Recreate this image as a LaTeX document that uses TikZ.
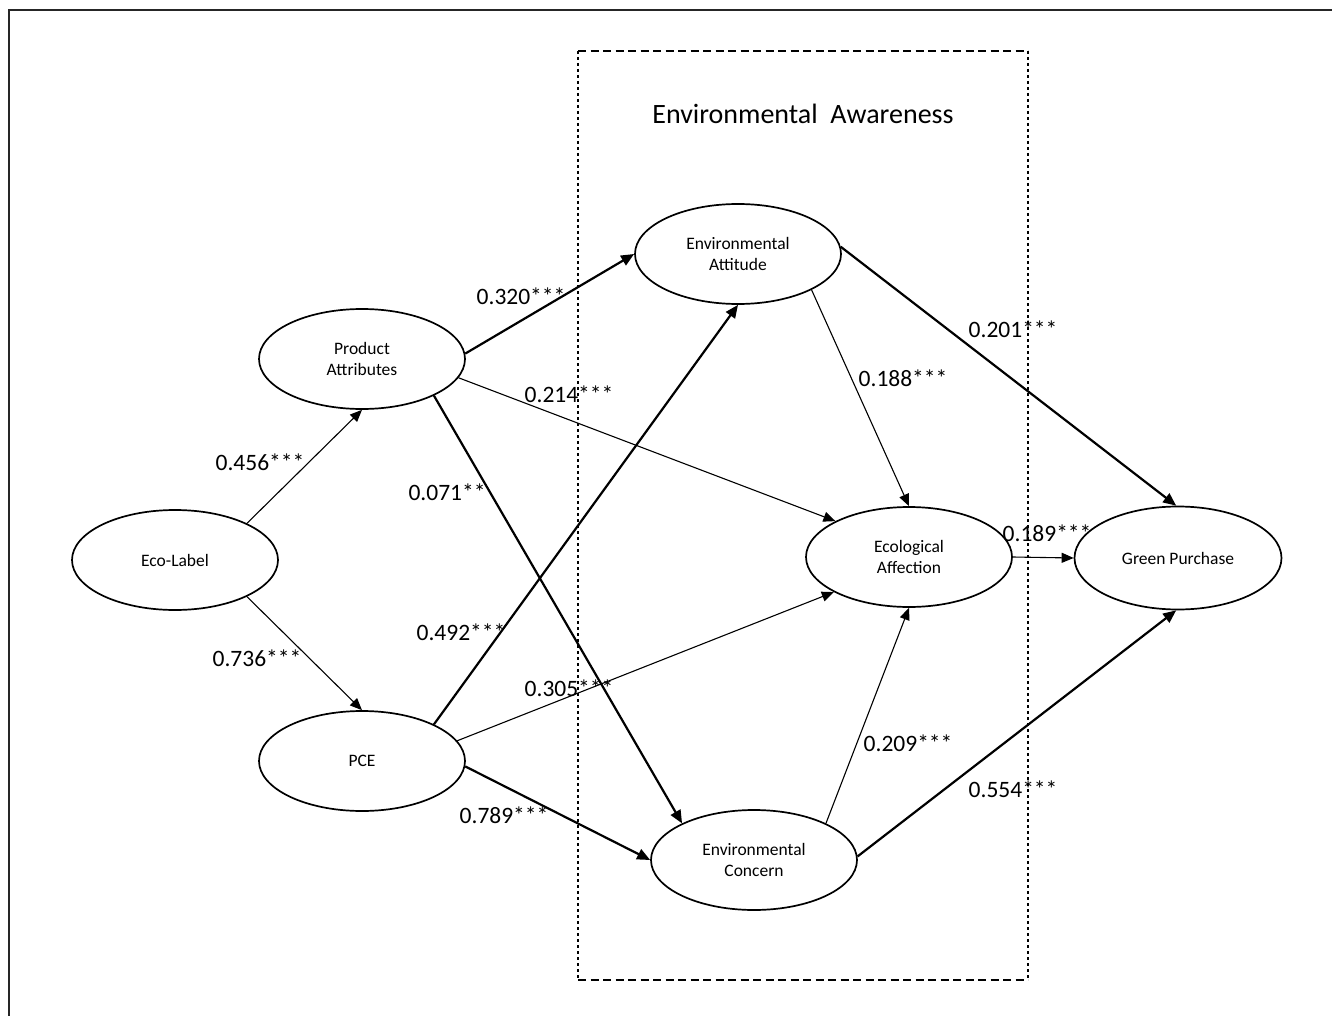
\documentclass[tikz,border=0pt]{standalone}
\usepackage{fontspec}
\setmainfont{Carlito}
\usetikzlibrary{shapes.geometric,arrows.meta}
\begin{document}
\begin{tikzpicture}[x=1pt,y=-1pt,
  latent/.style={ellipse,draw=black,line width=1.7pt,minimum width=206pt,minimum height=100pt,inner sep=0pt,align=center,font=\fontsize{17.5}{21.5}\selectfont,fill=white},
  coef/.style={font=\fontsize{23.5}{26}\selectfont,inner sep=0pt},
  thinarrow/.style={line width=1.1pt,-{Triangle[length=12pt,width=10pt]}},
  thickarrow/.style={line width=2.2pt,-{Triangle[length=13pt,width=11pt]}},
  frameline/.style={line width=2pt,draw=black!85}]
\fill[white] (0,0) rectangle (1332,1016);
\useasboundingbox (0,0) rectangle (1332,1016);
% outer frame (top and left edges)
\coordinate (fa) at (8.5,1016);
\coordinate (fb) at (8.5,10);
\coordinate (fc) at (1332,10);
\draw[frameline] (fa) -- (fb) -- (fc);
% dashed box
\coordinate (b1) at (578,51);
\coordinate (b2) at (1028,51);
\coordinate (b3) at (1028,980);
\coordinate (b4) at (578,980);
\draw[line width=1.6pt,dash pattern=on 8pt off 4.5pt] (b1) -- (b2);
\draw[line width=1.6pt,dash pattern=on 8pt off 4.5pt] (b4) -- (b3);
\draw[line width=1.5pt,dash pattern=on 3pt off 3pt] (b1) -- (b4);
\draw[line width=1.5pt,dash pattern=on 3pt off 3pt] (b2) -- (b3);
\node[font=\fontsize{28}{32}\selectfont,inner sep=0pt] (title) at (803,114) {Environmental\ \ Awareness};
% latent variables
\node[latent] (eco) at (175,560) {Eco-Label};
\node[latent] (pa) at (362,359) {Product\\Attributes};
\node[latent] (pce) at (362,761) {PCE};
\node[latent] (ea) at (738,254) {Environmental\\Attitude};
\node[latent] (ecoaff) at (909,557) {Ecological\\Affection};
\node[latent] (ec) at (754,860) {Environmental\\Concern};
\node[latent,minimum width=207pt,minimum height=103pt] (gp) at (1178,558) {Green Purchase};
% paths
\draw[thinarrow] (eco.27) -- (pa.south);
\draw[thinarrow] (eco.-27) -- (pce.north);
\draw[thickarrow] (pa.3) -- (ea.west);
\draw[thinarrow] (pa.-11) -- (ecoaff.154);
\draw[thickarrow] (pa.-27) -- (ec.153);
\draw[thickarrow] (pce.27) -- (ea.south);
\draw[thinarrow] (pce.12) -- (ecoaff.205);
\draw[thickarrow] (pce.-3) -- (ec.west);
\draw[thinarrow] (ea.-26) -- (ecoaff.north);
\draw[thickarrow] (ea.4) -- (gp.92);
\draw[thinarrow] (ecoaff.east) -- (gp.west);
\draw[thinarrow] (ec.27) -- (ecoaff.south);
\draw[thickarrow] (ec.2) -- (gp.-92);
% coefficients
\node[coef] (c1) at (260,462) {0.456***};
\node[coef] (c2) at (257,658) {0.736***};
\node[coef] (c3) at (521,296) {0.320***};
\node[coef] (c4) at (569,394) {0.214***};
\node[coef] (c5) at (447,492) {0.071**};
\node[coef] (c6) at (461,632) {0.492***};
\node[coef] (c7) at (569,688) {0.305***};
\node[coef] (c8) at (504,815) {0.789***};
\node[coef] (c9) at (903,378) {0.188***};
\node[coef] (c10) at (1013,329) {0.201***};
\node[coef] (c11) at (1047,533) {0.189***};
\node[coef] (c12) at (908,743) {0.209***};
\node[coef] (c13) at (1013,789) {0.554***};
\end{tikzpicture}
\end{document}
